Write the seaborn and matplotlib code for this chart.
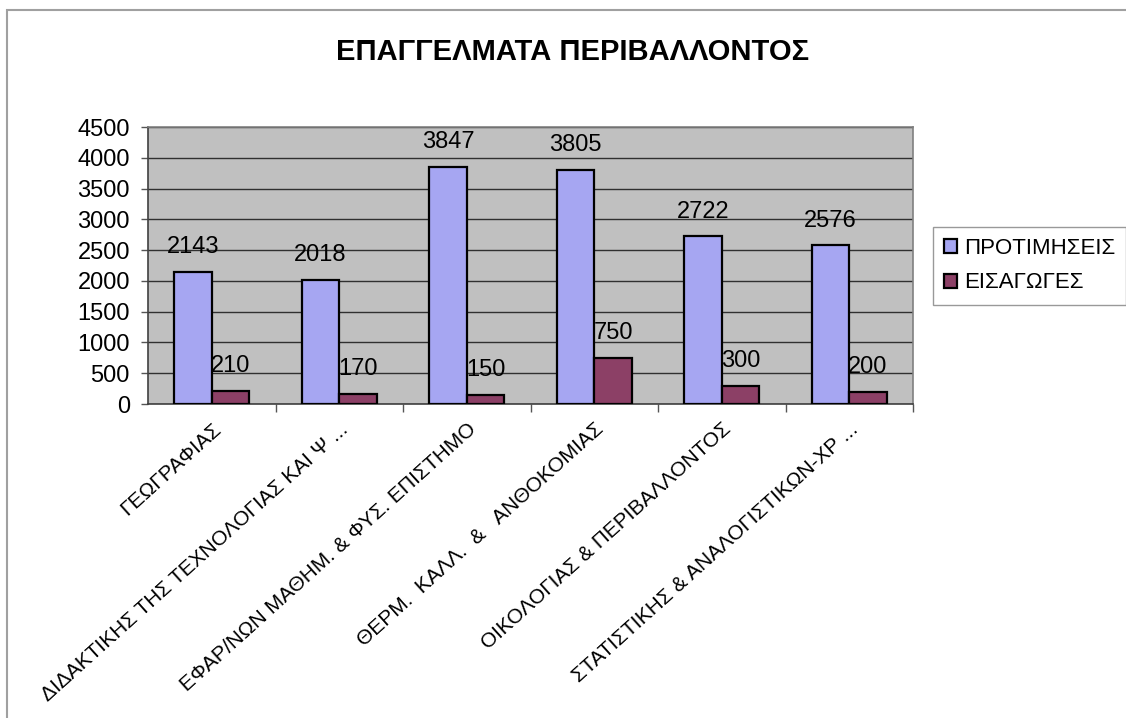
import matplotlib
matplotlib.use("Agg")
import matplotlib.pyplot as plt
from matplotlib.patches import Rectangle
from matplotlib.ticker import FixedLocator, MultipleLocator
import pandas as pd
import seaborn as sns

categories = [
    "ΓΕΩΓΡΑΦΙΑΣ",
    "ΔΙΔΑΚΤΙΚΗΣ ΤΗΣ ΤΕΧΝΟΛΟΓΙΑΣ ΚΑΙ Ψ ...",
    "ΕΦΑΡ/ΝΩΝ ΜΑΘΗΜ. & ΦΥΣ. ΕΠΙΣΤΗΜΟ",
    "ΘΕΡΜ.  ΚΑΛΛ.  &   ΑΝΘΟΚΟΜΙΑΣ",
    "ΟΙΚΟΛΟΓΙΑΣ & ΠΕΡΙΒΑΛΛΟΝΤΟΣ",
    "ΣΤΑΤΙΣΤΙΚΗΣ & ΑΝΑΛΟΓΙΣΤΙΚΩΝ-ΧΡ ...",
]
protimiseis = [2143, 2018, 3847, 3805, 2722, 2576]
eisagoges = [210, 170, 150, 750, 300, 200]
series_names = ["ΠΡΟΤΙΜΗΣΕΙΣ", "ΕΙΣΑΓΩΓΕΣ"]
colors = ["#9999FF", "#993366"]

df = pd.DataFrame({
    "cat": categories * 2,
    "series": [series_names[0]] * 6 + [series_names[1]] * 6,
    "value": protimiseis + eisagoges,
})

sns.set_style("white")
plt.rcParams["font.family"] = ["Liberation Sans", "DejaVu Sans"]
plt.rcParams["text.color"] = "black"
plt.rcParams["xtick.color"] = "black"
plt.rcParams["ytick.color"] = "black"

fig = plt.figure(figsize=(11.26, 7.18), dpi=100)
ax = fig.add_axes([148 / 1126, 1 - 404 / 718, 765 / 1126, 277 / 718])
ax.set_facecolor("#C0C0C0")

sns.barplot(data=df, x="cat", y="value", hue="series", palette=colors,
            width=0.59, gap=0, edgecolor="black", linewidth=1.6,
            ax=ax, zorder=3)

for cont in ax.containers:
    ax.bar_label(cont, padding=10, fontsize=17, color="black", zorder=4)

ax.set_ylim(0, 4500)
ax.set_xlim(-0.5, 5.5)
ax.yaxis.set_major_locator(MultipleLocator(500))
ax.grid(axis="y", color="#303030", linewidth=1.0, zorder=0)
ax.set_axisbelow(True)

ax.xaxis.set_minor_locator(FixedLocator([0.5, 1.5, 2.5, 3.5, 4.5, 5.5]))
ax.tick_params(axis="x", which="minor", length=6, width=1, color="#555555",
               direction="out", bottom=True)
ax.tick_params(axis="x", which="major", length=0, pad=11)
ax.tick_params(axis="y", length=5, width=1, color="#555555", direction="out",
               left=True, labelsize=17, pad=8)
plt.setp(ax.get_xticklabels(), rotation=42, ha="right", va="top",
         rotation_mode="anchor", fontsize=15)

for side in ["top", "right"]:
    ax.spines[side].set_color("#808080")
for side in ["left", "bottom"]:
    ax.spines[side].set_color("#404040")
for sp in ax.spines.values():
    sp.set_linewidth(1.2)

ax.set_xlabel("")
ax.set_ylabel("")

handles, labels = ax.get_legend_handles_labels()
leg = ax.legend(handles, labels, loc="upper left",
                bbox_to_anchor=(933 / 1126, 1 - 227 / 718),
                bbox_transform=fig.transFigure, borderaxespad=0,
                fontsize=16, frameon=True, fancybox=False,
                handlelength=0.6, handleheight=0.6, handletextpad=0.3,
                labelspacing=0.6, borderpad=0.5)
leg.get_frame().set_edgecolor("#808080")
leg.get_frame().set_linewidth(1.0)

fig.text(573 / 1126, 1 - 52 / 718, "ΕΠΑΓΓΕΛΜΑΤΑ ΠΕΡΙΒΑΛΛΟΝΤΟΣ",
         ha="center", va="center", fontsize=21, fontweight="bold",
         color="black")

fig.patches.append(Rectangle((7 / 1126, -0.05), 1.0, (718 - 10) / 718 + 0.05,
                             transform=fig.transFigure, fill=False,
                             edgecolor="#A0A0A0", linewidth=1.5))

fig.savefig("out.png", dpi=100)
